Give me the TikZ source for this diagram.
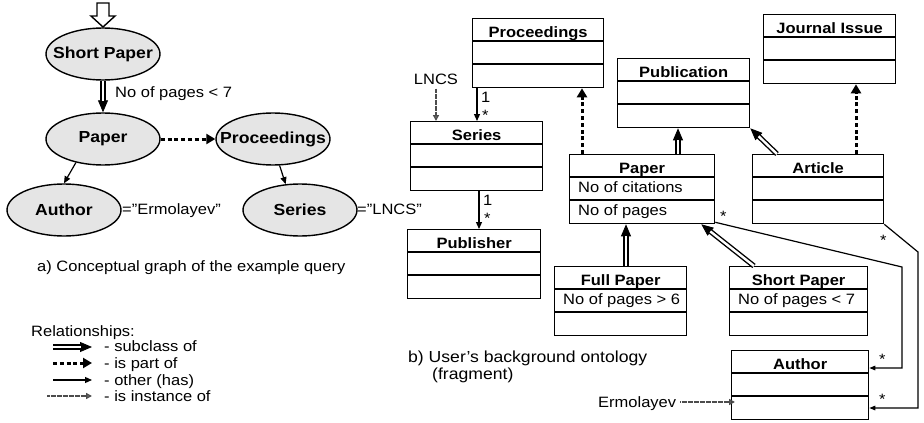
\documentclass[tikz,border=0pt]{standalone}
\usepackage{fontspec}
\setmainfont{Liberation Sans}[FakeStretch=1.1]
\usetikzlibrary{arrows.meta,shapes.geometric}
\tikzset{
  txt/.style={font=\fontsize{15}{17}\selectfont, inner sep=0pt, text height=11pt, text depth=0pt},
  captxt/.style={font=\fontsize{16}{18}\selectfont, inner sep=0pt, text height=11.5pt, text depth=0pt},
  ttl/.style={font=\fontsize{15}{17}\selectfont\bfseries, inner sep=0pt},
  atr/.style={font=\fontsize{15}{17}\selectfont, inner sep=0pt},
  ell/.style={ellipse, draw, line width=1.4pt, fill=gray!20, minimum width=114pt, minimum height=52pt, inner sep=0pt},
  elltxt/.style={font=\fontsize{16}{18}\selectfont\bfseries, inner sep=0pt},
  umlbox/.style={draw, line width=1.3pt, inner sep=0pt, anchor=north west, minimum height=69pt},
  subcl/.style={draw, line width=0.8pt, -{Triangle[length=12pt,width=10pt]},
    postaction={draw, -, double, line width=1.4pt, double distance=2.4pt, shorten >=11.5pt}},
  partof/.style={draw, line width=3pt, dash pattern=on 4pt off 2.8pt, -{Triangle[length=9pt,width=10pt]}},
  has/.style={draw, line width=1.2pt, -{Triangle[length=7pt,width=6pt]}},
  hassmall/.style={draw, line width=1.2pt, -{Triangle[length=6pt,width=4.5pt]}},
  inst/.style={draw=gray!60!black, line width=1.8pt, dash pattern=on 0.6pt off 0.6pt, -{Triangle[open,length=6pt,width=6pt]}},
}
\newcommand\umlbox[7]{%
  \node[umlbox, minimum width=#4pt] (#1) at (#2,#3) {};
  \draw[line width=1.3pt] ([yshift=-23pt]#1.north west) -- ([yshift=-23pt]#1.north east);
  \draw[line width=1.3pt] ([yshift=-46pt]#1.north west) -- ([yshift=-46pt]#1.north east);
  \node[ttl, anchor=base] at ([yshift=-19pt]#1.north) {#5};
  \node[atr, anchor=base west] at ([xshift=9pt,yshift=-38pt]#1.north west) {#6};
  \node[atr, anchor=base west] at ([xshift=9pt,yshift=-61pt]#1.north west) {#7};
}
\begin{document}
\begin{tikzpicture}[x=1pt,y=-1pt]
\useasboundingbox (0,0) rectangle (924,423);

% ---------- a) conceptual graph ----------
\draw[line width=1.4pt, fill=white] (97,3) -- (109,3) -- (109,16) -- (115,16) -- (103,27) -- (91,16) -- (97,16) -- cycle;

\node[ell, label={[elltxt]center:Short Paper}] (sp) at (103,54) {};
\node[ell, label={[elltxt]center:Paper}] (pa) at (103,139) {};
\node[ell, label={[elltxt]center:Proceedings}] (pr) at (273,139) {};
\node[ell, label={[elltxt]center:Author}] (au) at (64,210) {};
\node[ell, label={[elltxt]center:Series}] (se) at (300,210) {};

\draw[subcl] (sp) -- (pa);
\node[txt, anchor=west] (lbl1) at (115,92) {No of pages < 7};
\draw[partof] (pa) -- (pr);
\draw[has] (pa.221) -- (au.north);
\draw[has] (pr.284) -- (se.119);
\node[txt, anchor=west] (lbl2) at (122,209) {=”Ermolayev”};
\node[txt, anchor=west] (lbl3) at (357,209) {=”LNCS”};
\node[txt, anchor=west] (capa) at (37,266) {a) Conceptual graph of the example query};

% ---------- legend ----------
\node[txt, anchor=west] (rel) at (31,331) {Relationships:};
\coordinate (l1a) at (53,347); \coordinate (l1b) at (92,347);
\coordinate (l2a) at (53,363); \coordinate (l2b) at (92,363);
\coordinate (l3a) at (53,380); \coordinate (l3b) at (92,380);
\coordinate (l4a) at (47,396); \coordinate (l4b) at (92,396);
\draw[subcl] (l1a) -- (l1b);
\draw[partof] (l2a) -- (l2b);
\draw[has] (l3a) -- (l3b);
\draw[inst] (l4a) -- (l4b);
\node[txt, anchor=west] (t1) at (104,346) {- subclass of};
\node[txt, anchor=west] (t2) at (104,363) {- is part of};
\node[txt, anchor=west] (t3) at (104,380) {- other (has)};
\node[txt, anchor=west] (t4) at (104,396) {- is instance of};

% ---------- b) ontology ----------
\umlbox{prB}{472}{18}{131}{Proceedings}{}{}
\umlbox{seB}{410}{121}{132}{Series}{}{}
\umlbox{puB}{407}{229}{133}{Publisher}{}{}
\umlbox{pubB}{617}{58}{132}{Publication}{}{}
\umlbox{jiB}{763}{14}{132}{Journal Issue}{}{}
\umlbox{arB}{752}{154}{131}{Article}{}{}
\umlbox{paB}{569}{154}{145}{Paper}{No of citations}{No of pages}
\umlbox{fpB}{554}{266}{132}{Full Paper}{No of pages > 6}{}
\umlbox{spB}{729}{266}{138}{Short Paper}{No of pages < 7}{}
\umlbox{auB}{731}{350}{137}{Author}{}{}

\node[txt] (lncs) at (436,79) {LNCS};
\draw[inst] ([yshift=-4pt]lncs.south) -- (lncs.south |- seB.north);

\draw[has] ([xshift=5pt]prB.south west) -- ([xshift=5pt]prB.south west |- seB.north);
\node[txt, anchor=west] (m1) at (481,97) {1};
\node[txt, anchor=west] (m2) at (482,115) {*};
\draw[has] ([xshift=69pt]seB.south west) -- ([xshift=69pt]seB.south west |- puB.north);
\node[txt, anchor=west] (m3) at (483,200) {1};
\node[txt, anchor=west] (m4) at (484,218) {*};

\draw[partof] ([xshift=13pt]paB.north west) -- ([xshift=13pt]paB.north west |- prB.south);
\draw[subcl] ([xshift=109pt]paB.north west) -- ([xshift=109pt]paB.north west |- pubB.south);
\draw[subcl] ([xshift=25pt]arB.north west) -- (pubB.south east);
\draw[partof] ([xshift=104pt]arB.north west) -- ([xshift=104pt]arB.north west |- jiB.south);
\draw[subcl] ([xshift=72pt]fpB.north west) -- ([xshift=72pt]fpB.north west |- paB.south);
\draw[subcl] ([xshift=25pt]spB.north west) -- ([xshift=-14pt]paB.south east);

\coordinate (k1) at (902,267);
\coordinate (k2) at (918,252);
\draw[hassmall] ([yshift=2pt]paB.south east) -- (k1) |- ([yshift=-18pt]auB.north east);
\draw[hassmall] (arB.south east) -- (k2) |- ([yshift=-58pt]auB.north east);
\node[txt, anchor=west] (s1) at (720,216) {*};
\node[txt, anchor=west] (s2) at (879,359) {*};
\node[txt, anchor=west] (s3) at (880,240) {*};
\node[txt, anchor=west] (s4) at (879,399) {*};

\node[txt, anchor=west] (erm) at (598,402) {Ermolayev};
\draw[inst] ([xshift=4pt]erm.east) -- ([xshift=4pt]erm.east -| auB.west);

\node[captxt, anchor=west] (capb1) at (408,357) {b) User’s background ontology};
\node[captxt, anchor=west] (capb2) at (432,374) {(fragment)};
\end{tikzpicture}
\end{document}
